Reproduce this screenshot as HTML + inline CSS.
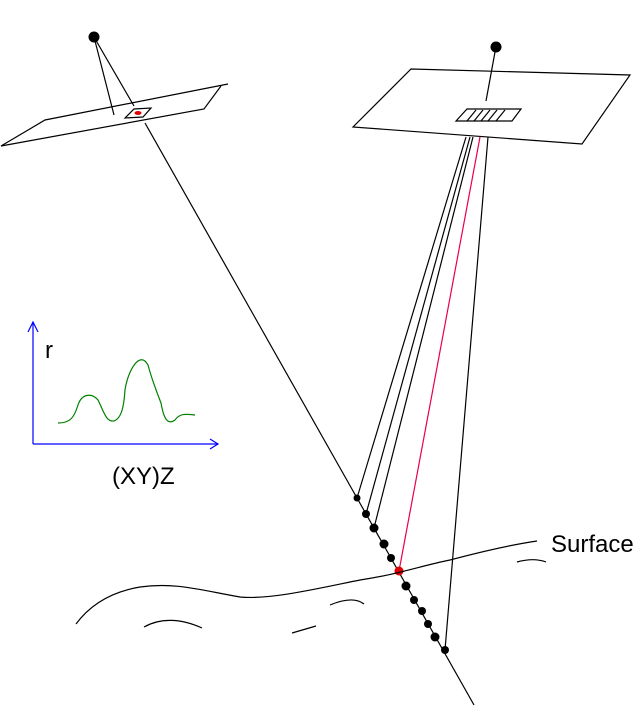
<!DOCTYPE html>
<html><head><meta charset="utf-8"><style>
html,body{margin:0;padding:0;background:#fff;}
svg{display:block;}
text{font-family:"Liberation Sans",sans-serif;}
</style></head><body>
<svg width="641" height="718" viewBox="0 0 641 718" xmlns="http://www.w3.org/2000/svg" fill="none" stroke="#000" stroke-width="1.2">
<!-- left plane -->
<circle cx="94" cy="37" r="5.5" fill="#000" stroke="none"/>
<line x1="94" y1="37" x2="114" y2="115"/>
<line x1="94" y1="37" x2="134" y2="106"/>
<polyline points="1,146 45,120 228,84"/>
<polyline points="221,86 204,109 1,146"/>
<polygon points="125,118 134,109 151,108 143,117"/>
<ellipse cx="138" cy="113" rx="3.5" ry="2" fill="#e00000" stroke="none"/>
<line x1="145" y1="123" x2="357" y2="498"/>
<!-- right plane -->
<circle cx="496" cy="47" r="5.5" fill="#000" stroke="none"/>
<line x1="495" y1="52" x2="486" y2="101"/>
<polygon points="411,69 630,75 582,144 353,127"/>
<polygon points="456,121 467,109 521,109 512,121"/>
<line x1="467" y1="121" x2="476" y2="110"/><line x1="474" y1="121" x2="483" y2="110"/>
<line x1="481" y1="121" x2="490" y2="110"/><line x1="488" y1="121" x2="497" y2="110"/>
<line x1="496" y1="121" x2="505" y2="110"/>
<line x1="466" y1="137" x2="357" y2="498"/>
<line x1="470" y1="137" x2="366" y2="514"/>
<line x1="473" y1="137" x2="374" y2="528"/>
<line x1="480" y1="137" x2="399" y2="571" stroke="#e8004a"/>
<line x1="488" y1="137" x2="445" y2="650"/>
<!-- main line -->
<line x1="357" y1="498" x2="474" y2="705"/>
<g fill="#000" stroke="none">
<circle cx="357" cy="498" r="3.5"/><circle cx="366" cy="514" r="4"/><circle cx="374" cy="528" r="4.5"/>
<circle cx="384" cy="544" r="4.5"/><circle cx="391" cy="558" r="4"/>
<circle cx="406" cy="586" r="4.5"/><circle cx="414" cy="600" r="4"/><circle cx="422" cy="611" r="4"/>
<circle cx="428" cy="624" r="4"/><circle cx="435" cy="637" r="4.5"/><circle cx="445" cy="650" r="4"/>
</g>
<circle cx="399" cy="571" r="4.5" fill="#e00000" stroke="none"/>
<!-- surface -->
<path d="M76,624 C90,605 110,592 140,587 C175,582 200,590 240,597 C270,600 320,588 360,580 C400,574 420,566 450,560 C480,552 510,545 537,541"/>
<path d="M144,627 C160,618 180,618 202,628"/>
<path d="M292,633 L316,626"/>
<path d="M330,605 C342,600 355,597 364,604"/>
<path d="M517,562 C528,559 538,559 546,562"/>
<text x="551" y="552" font-size="24" fill="#000" stroke="none">Surface</text>
<!-- graph -->
<g stroke="#0000ff">
<line x1="33" y1="444" x2="33" y2="322"/>
<line x1="33" y1="444" x2="218" y2="444"/>
<polyline points="28,332 33,322 38,332"/>
<polyline points="210,439 218,444 210,449"/>
</g>
<text x="45" y="358" font-size="24" fill="#000" stroke="none">r</text>
<path stroke="#008000" d="M58,423 C70,423 74,418 78,405 C82,393 92,393 98,400 C104,412 106,422 114,421 C122,418 124,405 125,390 C128,370 140,350 148,365 C152,380 156,390 161,403 C164,420 168,425 175,420 C180,413 186,414 195,415"/>
<text x="112" y="484" font-size="24" fill="#000" stroke="none">(XY)Z</text>
</svg>
</body></html>
